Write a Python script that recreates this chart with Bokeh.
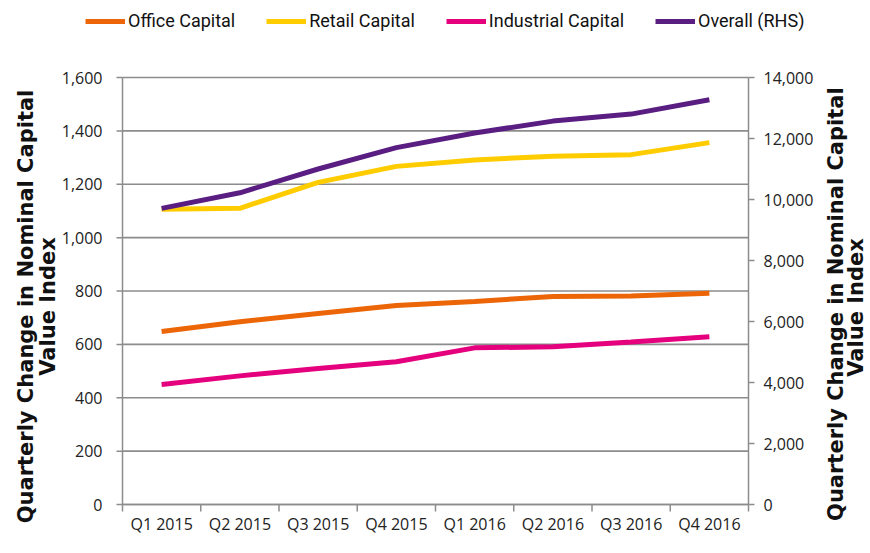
import math
from bokeh.plotting import figure
from bokeh.models import Range1d, Legend, Label
from bokeh.core.properties import value
from bokeh.embed import file_html
from bokeh.resources import INLINE

quarters = ["Q1 2015", "Q2 2015", "Q3 2015", "Q4 2015",
            "Q1 2016", "Q2 2016", "Q3 2016", "Q4 2016"]
office = [648, 685, 716, 746, 761, 779, 781, 792]
retail = [1106, 1110, 1207, 1267, 1291, 1305, 1311, 1356]
industrial = [450, 482, 510, 535, 587, 591, 609, 629]
overall = [9710, 10220, 11000, 11700, 12180, 12570, 12800, 13270]

series_names = ["Office Capital", "Retail Capital", "Industrial Capital", "Overall (RHS)"]
series_colors = ["#EC6608", "#FFCC00", "#E5007D", "#5A1E82"]

left_ticks = [0, 200, 400, 600, 800, 1000, 1200, 1400, 1600]
right_ticks = [0, 2000, 4000, 6000, 8000, 10000, 12000, 14000]

left_title = ["Quarterly Change in Nominal Capital", "Value Index"]
right_title = ["Quarterly Change in  Nominal Capital", "Value Index"]

# ---- layout constants (pixels) ----
FIG_W, FIG_H = 869, 545
PLOT_L, PLOT_R, PLOT_TOP, PLOT_BOT = 122, 748, 77, 504

n = len(quarters)
xs = [i + 0.5 for i in range(n)]
ppx = (PLOT_R - PLOT_L) / n
x_start = -PLOT_L / ppx
x_end = n + (FIG_W - PLOT_R) / ppx
plot_h = PLOT_BOT - PLOT_TOP


def vrange(vmax):
    ppy = plot_h / vmax
    return Range1d(-(FIG_H - PLOT_BOT) / ppy, vmax + PLOT_TOP / ppy)


TICK_FONT = "Open Sans"
TITLE_FONT = "DejaVu Sans"
GRID = "#8c8c8c"
TXT = "#222222"

p = figure(width=FIG_W, height=FIG_H, output_backend="svg", toolbar_location=None,
           x_range=Range1d(x_start, x_end), y_range=vrange(left_ticks[-1]),
           x_axis_type=None, y_axis_type=None, min_border=0, outline_line_color=None)
p.extra_y_ranges = {"rhs": vrange(right_ticks[-1])}
p.xgrid.visible = False
p.ygrid.visible = False

# horizontal gridlines (left-axis ticks), limited to the plot area
p.segment(x0=[0] * len(left_ticks), x1=[n] * len(left_ticks), y0=left_ticks, y1=left_ticks,
          line_color=GRID, line_width=1.6)

# left axis: line, ticks, labels
p.segment(x0=[0], x1=[0], y0=[left_ticks[0]], y1=[left_ticks[-1]], line_color=GRID, line_width=1.5)
p.ray(x=[0] * len(left_ticks), y=left_ticks, length=6, length_units="screen", angle=math.pi,
      line_color=GRID, line_width=1.5)
p.text(x=[0] * len(left_ticks), y=left_ticks, text=[f"{t:,}" for t in left_ticks],
       x_offset=-20, text_align="right", text_baseline="middle",
       text_font=value(TICK_FONT), text_font_size="16px", text_color=TXT)

# right axis: line, ticks, labels
p.segment(x0=[n], x1=[n], y0=[right_ticks[0]], y1=[right_ticks[-1]], line_color=GRID,
          line_width=1.5, y_range_name="rhs")
p.ray(x=[n] * len(right_ticks), y=right_ticks, length=6, length_units="screen", angle=0,
      line_color=GRID, line_width=1.5, y_range_name="rhs")
p.text(x=[n] * len(right_ticks), y=right_ticks, text=[f"{t:,}" for t in right_ticks],
       x_offset=15, text_align="left", text_baseline="middle", y_range_name="rhs",
       text_font=value(TICK_FONT), text_font_size="16px", text_color=TXT)

# bottom (category) axis: line, boundary ticks, labels
p.segment(x0=[0], x1=[n], y0=[0], y1=[0], line_color=GRID, line_width=1.5)
p.ray(x=list(range(n + 1)), y=[0] * (n + 1), length=7, length_units="screen",
      angle=-math.pi / 2, line_color=GRID, line_width=1.5)
p.text(x=xs, y=[0] * n, text=quarters, y_offset=19, text_align="center",
       text_baseline="middle", text_font=value(TICK_FONT), text_font_size="16px",
       text_color=TXT)

# series
r1 = p.line(xs, office, line_color=series_colors[0], line_width=5)
r2 = p.line(xs, retail, line_color=series_colors[1], line_width=5)
r3 = p.line(xs, industrial, line_color=series_colors[2], line_width=5)
r4 = p.line(xs, overall, line_color=series_colors[3], line_width=5, y_range_name="rhs")

# axis titles (rotated, reading bottom to top); screen coords from frame bottom-left
for txt, sx, sy in [(left_title[0], 25, FIG_H - 306), (left_title[1], 47, FIG_H - 306),
                    (right_title[0], 835, FIG_H - 300), (right_title[1], 855, FIG_H - 307)]:
    p.add_layout(Label(x=sx, y=sy, x_units="screen", y_units="screen", text=txt,
                       angle=math.pi / 2, text_align="center", text_baseline="middle",
                       text_font=TITLE_FONT, text_font_style="bold",
                       text_font_size="21px", text_color="#111111"))

# legend
lg = Legend(items=[(nm, [r]) for nm, r in zip(series_names, [r1, r2, r3, r4])],
            orientation="horizontal", location=(85, FIG_H - 31))
lg.padding = 0
lg.margin = 0
lg.border_line_color = None
lg.background_fill_alpha = 0
lg.glyph_width = 40
lg.glyph_height = 20
lg.label_height = 20
lg.label_standoff = 3
lg.spacing = 31
lg.label_text_font = "Roboto"
lg.label_text_font_size = "18px"
lg.label_text_color = "#111111"
p.add_layout(lg, "center")

open("out.html", "w").write(file_html(p, INLINE))
